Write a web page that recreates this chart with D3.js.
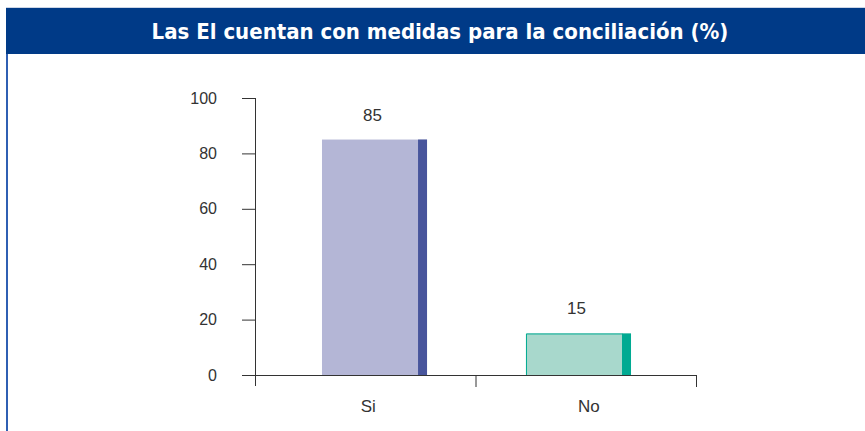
<!DOCTYPE html>
<html>
<head>
<meta charset="utf-8">
<script src="https://cdn.jsdelivr.net/npm/d3@7"></script>
<style>
  body { margin: 0; background: #fff; }
  svg { display: block; }
</style>
</head>
<body>
<svg id="chart" width="865" height="431"></svg>
<script>
var categories = ["Si", "No"];
var values = [85, 15];
var yTicks = [0, 20, 40, 60, 80, 100];
var title = "Las El cuentan con medidas para la conciliación (%)";

var lightColors = ["#b4b6d6", "#a8d8cc"];
var darkColors = ["#48559c", "#00aa92"];

var svg = d3.select("#chart");

// header band
svg.append("rect").attr("x", 6).attr("y", 7).attr("width", 859).attr("height", 1).attr("fill", "#cdd6e6");
svg.append("rect").attr("x", 6).attr("y", 8).attr("width", 859).attr("height", 46).attr("fill", "#003a87");
svg.append("rect").attr("x", 6).attr("y", 54).attr("width", 2).attr("height", 377).attr("fill", "#2f5fb3");

var t = svg.append("text")
    .attr("x", 440)
    .attr("y", 39)
    .attr("text-anchor", "middle")
    .attr("fill", "#fff")
    .style("font-family", "'DejaVu Sans Condensed', 'DejaVu Sans', sans-serif")
    .style("font-stretch", "condensed")
    .style("font-weight", "bold")
    .style("font-size", "22px")
    .text(title);
console.log(t.node().getComputedTextLength());

var x0 = 256, x1 = 697, yTop = 98, yBot = 375;

var xAxisScale = d3.scaleBand().domain(categories).range([x0, x1]);
var xBar = d3.scaleBand().domain(categories).range([x0, x1])
    .paddingInner(0.485).paddingOuter(0.3235);
var yScale = d3.scaleLinear().domain([0, 100]).range([yBot, yTop]);

var axisColor = "#333";
var fontFam = "'Liberation Sans', Arial, sans-serif";

// y axis
var gy = svg.append("g").attr("transform", "translate(" + x0 + ",0)")
    .call(d3.axisLeft(yScale).tickValues(yTicks).tickSize(14).tickPadding(25).tickSizeOuter(0));
gy.select(".domain").remove();
gy.selectAll("line").attr("stroke", axisColor);
gy.selectAll("text").style("font-family", fontFam).style("font-size", "16px").attr("fill", "#333");
svg.append("line").attr("x1", x0 - 0.5).attr("x2", x0 - 0.5).attr("y1", yTop).attr("y2", yBot + 11)
    .attr("stroke", axisColor);

// bars
var bars = svg.append("g").selectAll("g").data(values).enter().append("g");
var barW = xBar.bandwidth();
var stripW = 9;
bars.append("rect")
    .attr("x", function (d, i) { return xBar(categories[i]); })
    .attr("y", function (d) { return yScale(d); })
    .attr("width", barW)
    .attr("height", function (d) { return yBot - yScale(d); })
    .attr("fill", function (d, i) { return lightColors[i]; });
bars.append("rect")
    .attr("x", function (d, i) { return xBar(categories[i]) + barW - stripW; })
    .attr("y", function (d) { return yScale(d); })
    .attr("width", stripW)
    .attr("height", function (d) { return yBot - yScale(d); })
    .attr("fill", function (d, i) { return darkColors[i]; });
// thin top/left edge on the second bar
bars.filter(function (d, i) { return i == 1; }).append("path")
    .attr("d", function (d, i) {
        var bx = xBar(categories[1]) + 0.5, by = yScale(d) + 0.5;
        return "M" + bx + "," + yBot + "V" + by + "H" + (bx + barW - stripW);
    })
    .attr("fill", "none")
    .attr("stroke", darkColors[1])
    .attr("stroke-width", 1);

bars.append("text")
    .attr("x", function (d, i) { return xBar(categories[i]) + barW / 2 - 2; })
    .attr("y", function (d) { return yScale(d) - 19; })
    .attr("text-anchor", "middle")
    .style("font-family", fontFam)
    .style("font-size", "17px")
    .attr("fill", "#333")
    .text(function (d) { return d; });

// x axis
svg.append("line").attr("x1", x0 - 14).attr("x2", x1).attr("y1", yBot + 0.5).attr("y2", yBot + 0.5)
    .attr("stroke", axisColor);
var gx = svg.append("g").attr("transform", "translate(0," + yBot + ")");
gx.selectAll("line.tk").data(categories).enter().append("line")
    .attr("class", "tk")
    .attr("x1", function (d) { return xAxisScale(d) + xAxisScale.bandwidth() - 0.5; })
    .attr("x2", function (d) { return xAxisScale(d) + xAxisScale.bandwidth() - 0.5; })
    .attr("y1", 0).attr("y2", 12)
    .attr("stroke", axisColor);
gx.selectAll("text").data(categories).enter().append("text")
    .attr("x", function (d) { return xAxisScale(d) + xAxisScale.bandwidth() / 2 + 2; })
    .attr("y", 37)
    .attr("text-anchor", "middle")
    .style("font-family", fontFam)
    .style("font-size", "17px")
    .attr("fill", "#333")
    .text(function (d) { return d; });
</script>
</body>
</html>
